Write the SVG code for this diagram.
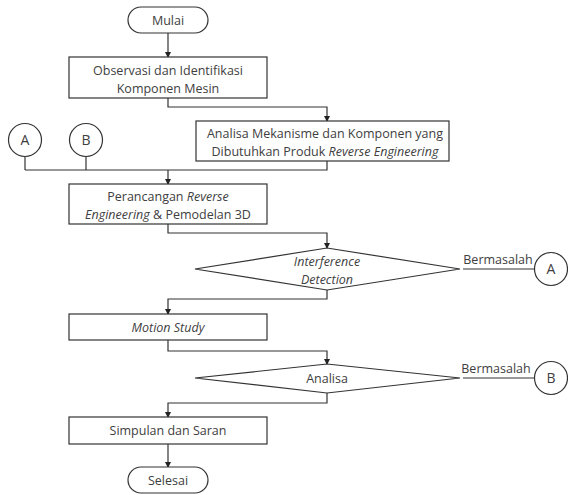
<svg xmlns="http://www.w3.org/2000/svg" width="568" height="495" viewBox="0 0 568 495">
<defs>
<marker id="arr" markerWidth="6" markerHeight="6" refX="5" refY="3" orient="auto" markerUnits="userSpaceOnUse">
<path d="M0,0 L6,3 L0,6 Z" fill="#222"/>
</marker>
<style>
.shape{fill:#fff;stroke:#333;stroke-width:1.2}
.line{fill:none;stroke:#333;stroke-width:1.2}
text{font-family:"Open Sans","Liberation Sans",sans-serif;font-size:12.5px;fill:#404040;text-anchor:middle}
.it{font-style:italic}
.big{font-size:14px}
</style>
</defs>
<g id="connectors">
<path class="line" d="M168,33 V57" marker-end="url(#arr)"/>
<path class="line" d="M168,98 V107 H327 V121" marker-end="url(#arr)"/>
<path class="line" d="M327,161 V170 H25"/>
<path class="line" d="M25,157 V170"/>
<path class="line" d="M86,157 V170"/>
<path class="line" d="M168,170 V184" marker-end="url(#arr)"/>
<path class="line" d="M168,224 V233 H327 V248" marker-end="url(#arr)"/>
<path class="line" d="M327,290 V299 H168 V314" marker-end="url(#arr)"/>
<path class="line" d="M168,340 V351 H327 V364" marker-end="url(#arr)"/>
<path class="line" d="M327,393 V403 H168 V417" marker-end="url(#arr)"/>
<path class="line" d="M168,444 V467" marker-end="url(#arr)"/>
<path class="line" d="M463,269 H535"/>
<path class="line" d="M463,378 H535"/>
</g>
<g id="mulai">
<rect class="shape" x="128" y="7" width="80" height="26" rx="13"/>
<text x="168" y="24.5">Mulai</text>
</g>
<g id="observasi">
<rect class="shape" x="69" y="57" width="198" height="41"/>
<text x="168" y="75">Observasi dan Identifikasi</text>
<text x="168" y="92.5">Komponen Mesin</text>
</g>
<g id="analisa-mekanisme">
<rect class="shape" x="196" y="121" width="253" height="40"/>
<text x="325" y="138">Analisa Mekanisme dan Komponen yang</text>
<text x="325" y="155.5">Dibutuhkan Produk <tspan class="it">Reverse Engineering</tspan></text>
</g>
<g id="connA-in">
<circle class="shape" cx="25" cy="140" r="16.5"/>
<text x="25" y="145" class="big">A</text>
</g>
<g id="connB-in">
<circle class="shape" cx="86" cy="140" r="16.5"/>
<text x="86" y="145" class="big">B</text>
</g>
<g id="perancangan">
<rect class="shape" x="69" y="184" width="198" height="40"/>
<text x="168" y="201">Perancangan <tspan class="it">Reverse</tspan></text>
<text x="168" y="218.5"><tspan class="it">Engineering</tspan> &amp; Pemodelan 3D</text>
</g>
<g id="interference">
<polygon class="shape" points="327,248 460,269 327,290 195,269"/>
<text x="327" y="266" class="it">Interference</text>
<text x="327" y="283.5" class="it">Detection</text>
</g>
<g id="bermasalah-a">
<text x="498" y="264">Bermasalah</text>
</g>
<g id="connA-out">
<circle class="shape" cx="551" cy="269" r="16.5"/>
<text x="551" y="274" class="big">A</text>
</g>
<g id="motion">
<rect class="shape" x="69" y="314" width="198" height="26"/>
<text x="168" y="331.5" class="it">Motion Study</text>
</g>
<g id="analisa">
<polygon class="shape" points="327,364 460,378 327,393 195,378"/>
<text x="327" y="382.5">Analisa</text>
</g>
<g id="bermasalah-b">
<text x="496" y="373">Bermasalah</text>
</g>
<g id="connB-out">
<circle class="shape" cx="551" cy="378" r="16.5"/>
<text x="551" y="383" class="big">B</text>
</g>
<g id="simpulan">
<rect class="shape" x="69" y="417" width="198" height="27"/>
<text x="168" y="435">Simpulan dan Saran</text>
</g>
<g id="selesai">
<rect class="shape" x="128" y="467" width="80" height="26" rx="13"/>
<text x="168" y="484.5">Selesai</text>
</g>
</svg>
